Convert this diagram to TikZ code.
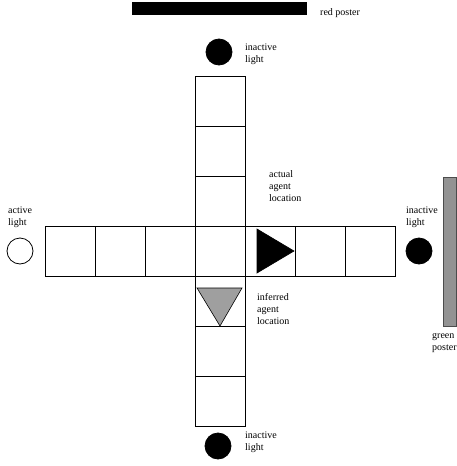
\documentclass[tikz,border=0pt]{standalone}
\usepackage{fontspec}
\setmainfont{Liberation Serif}
\usetikzlibrary{positioning}

\tikzset{
  cell/.style={draw, line width=0.8pt, minimum size=50pt, inner sep=0pt},
  lamp/.style={circle, draw, line width=0.8pt, minimum size=26pt, inner sep=0pt},
  lbl/.style={anchor=north west, inner sep=0pt, align=left,
    font=\fontsize{10}{12}\selectfont},
}

\begin{document}
\begin{tikzpicture}[x=1pt, y=-1pt]
  \useasboundingbox (0,0) rectangle (457,466);

  % horizontal corridor
  \foreach \i in {0,...,6}
    \node[cell] (h\i) at (70+50*\i, 251) {};
  % vertical corridor
  \foreach \j in {0,1,2,4,5,6}
    \node[cell] (v\j) at (220, 101+50*\j) {};

  % posters
  \fill (132,2) rectangle (307,15);
  \node[lbl] (redlbl) at (320,8) {red poster};
  \filldraw[fill=gray!85!white, draw=black!70, line width=0.6pt] (443,177) rectangle (456,326);
  \node[lbl] (greenlbl) at (432,333) {green\\poster};

  % lights
  \node[lamp, fill=black] (ltop) at (219,52) {};
  \node[lbl] (ltoplbl) at (245,44) {inactive\\light};
  \node[lamp] (lleft) at (20,251) {};
  \node[lbl] (lleftlbl) at (8,207) {active\\light};
  \node[lamp, fill=black] (lright) at (419,251) {};
  \node[lbl] (lrightlbl) at (406,207) {inactive\\light};
  \node[lamp, fill=black] (lbot) at (218,446) {};
  \node[lbl] (lbotlbl) at (245,432) {inactive\\light};

  % agent
  \filldraw[line width=0.6pt] (257,229) -- (294,251) -- (257,273) -- cycle;
  \node[lbl] (actlbl) at (269,170) {actual\\agent\\location};
  \filldraw[fill=gray!75!white, line width=0.6pt] (197,288) -- (242,288) -- (220,326) -- cycle;
  \node[lbl] (inflbl) at (257,293) {inferred\\agent\\location};
\end{tikzpicture}
\end{document}
